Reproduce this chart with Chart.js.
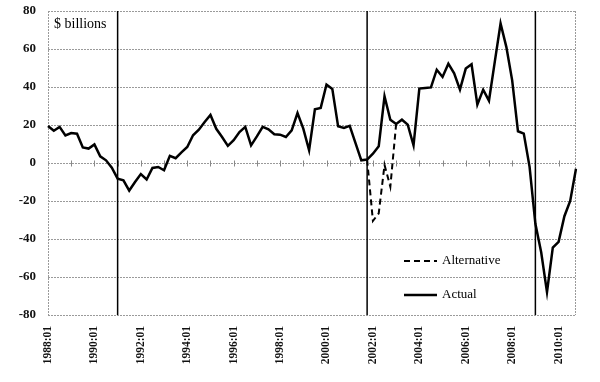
<!DOCTYPE html>
<html>
<head>
<meta charset="utf-8">
<script src="https://cdn.jsdelivr.net/npm/chart.js@4/dist/chart.umd.min.js"></script>
<style>
html,body{margin:0;padding:0;background:#fff;}
#wrap{width:600px;height:382px;position:relative;}
</style>
</head>
<body>
<div id="wrap"><canvas id="c" width="600" height="382"></canvas></div>
<script>
// ---- data ----
const startYear = 1988;
const endYear = 2010;
const quarters = [];
for (let yr = startYear; yr <= endYear; yr++) {
  for (let q = 1; q <= 4; q++) quarters.push(yr + ':0' + q);
}
const actual = [
  19.5, 17, 19, 14.5, 15.8, 15.4, 8.2, 7.6, 9.8, 3.5, 1.4, -2.5,
  -8.2, -9.1, -14.5, -10, -5.8, -8.7, -2.6, -2.1, -3.8, 3.8, 2.5, 5.6,
  8.4, 14.6, 17.5, 21.6, 25.3, 18, 13.7, 9, 12, 16.3, 19, 9.3,
  14, 19, 17.7, 15.1, 14.9, 13.7, 17.2, 26.3, 18.1, 6.7, 28.3, 29,
  41.3, 39, 19.3, 18.5, 19.6, 10.5, 1.4, 1.8, 4.9, 8.8, 35.1, 22.8,
  20.5, 22.8, 20.2, 9.3, 39.2, 39.5, 39.8, 49.1, 45.3, 52.3, 47.2, 38.6,
  49.7, 52, 30.7, 38.6, 32.8, 53.2, 73.4, 61, 43.5, 16.7, 15.5, -2,
  -32, -47, -68, -44.5, -41.5, -28, -20, -3
];
const alternative = quarters.map(() => null);
const altStart = '2001:04';
const altValues = [1.8, -30.5, -26.5, -1, -12.5, 20.5];
altValues.forEach((v, k) => { alternative[quarters.indexOf(altStart) + k] = v; });
const recessionMarks = ['1991:01', '2001:04', '2009:01'];
const yMin = -80, yMax = 80, yStep = 20;
const labelEvery = 8;   // x labels every 2 years
const minorEvery = 4;   // small ticks on zero line every year
const unitLabel = '$ billions';

// ---- styles ----
const SERIF = "'Liberation Serif', 'Times New Roman', serif";
const GRID = '#9a9a9a';

const decor = {
  id: 'decor',
  beforeDatasetsDraw(chart) {
    const { ctx, chartArea: a, scales: { x, y } } = chart;
    ctx.save();
    // left / right plot border
    ctx.strokeStyle = GRID;
    ctx.lineWidth = 1;
    ctx.setLineDash([2, 1]);
    ctx.beginPath();
    ctx.moveTo(Math.round(a.left) + 0.5, a.top); ctx.lineTo(Math.round(a.left) + 0.5, a.bottom);
    ctx.moveTo(Math.round(a.right) - 0.5, a.top); ctx.lineTo(Math.round(a.right) - 0.5, a.bottom);
    ctx.stroke();
    // small ticks on the zero line
    ctx.setLineDash([]);
    ctx.strokeStyle = '#888';
    const y0 = Math.round(y.getPixelForValue(0)) + 0.5;
    ctx.beginPath();
    quarters.forEach((q, i) => {
      if (i > 0 && i % minorEvery === 0 && i < quarters.length - 1) {
        const px = Math.round(x.getPixelForValue(i)) + 0.5;
        ctx.moveTo(px, y0 - 3); ctx.lineTo(px, y0 + 3);
      }
    });
    ctx.stroke();
    // unit label
    ctx.fillStyle = '#000';
    ctx.font = '14px ' + SERIF;
    ctx.textBaseline = 'middle';
    ctx.textAlign = 'left';
    ctx.fillText(unitLabel, a.left + 6, a.top + 13);
    ctx.restore();
  },
  afterDatasetsDraw(chart) {
    const { ctx, chartArea: a, scales: { x } } = chart;
    ctx.save();
    ctx.strokeStyle = '#000';
    ctx.lineWidth = 1.5;
    recessionMarks.forEach(m => {
      const px = x.getPixelForValue(quarters.indexOf(m));
      ctx.beginPath();
      ctx.moveTo(px, a.top); ctx.lineTo(px, a.bottom);
      ctx.stroke();
    });
    // legend inside the plot
    const ds = chart.data.datasets;
    const lx = a.left + 356, ly = a.top + 250, gap = 34;
    ds.forEach((d, k) => {
      const yy = ly + k * gap;
      ctx.strokeStyle = d.borderColor;
      ctx.lineWidth = d.borderWidth;
      ctx.setLineDash(d.borderDash || []);
      ctx.beginPath();
      ctx.moveTo(lx, yy); ctx.lineTo(lx + 33, yy);
      ctx.stroke();
      ctx.setLineDash([]);
      ctx.fillStyle = '#000';
      ctx.font = '13px ' + SERIF;
      ctx.textBaseline = 'middle';
      ctx.textAlign = 'left';
      ctx.fillText(d.label, lx + 38, yy);
    });
    ctx.restore();
  }
};

new Chart(document.getElementById('c'), {
  type: 'line',
  data: {
    labels: quarters,
    datasets: [
      {
        label: 'Alternative',
        data: alternative,
        borderColor: '#000',
        borderWidth: 2,
        borderDash: [6, 4],
        pointRadius: 0,
        fill: false,
        tension: 0,
        spanGaps: false
      },
      {
        label: 'Actual',
        data: actual,
        borderColor: '#000',
        borderWidth: 2.5,
        pointRadius: 0,
        fill: false,
        tension: 0
      }
    ]
  },
  options: {
    responsive: false,
    animation: false,
    events: [],
    layout: { padding: { top: 11, right: 24, left: 0, bottom: 0 } },
    plugins: { legend: { display: false }, tooltip: { enabled: false } },
    scales: {
      x: {
        offset: false,
        grid: { display: false },
        border: { display: false },
        afterFit(s) { s.height = 67; },
        ticks: {
          autoSkip: false,
          maxRotation: 90,
          minRotation: 90,
          padding: 3,
          color: '#111',
          font: { family: SERIF, size: 11.5, weight: 'bold' },
          callback(v, i) { return i % labelEvery === 0 ? quarters[i] : null; }
        }
      },
      y: {
        min: yMin,
        max: yMax,
        afterFit(s) { s.width = 48; },
        grid: { color: GRID, lineWidth: 1, drawTicks: true, tickLength: 12, tickColor: 'rgba(0,0,0,0)' },
        border: { display: false, dash: [2, 1] },
        ticks: {
          stepSize: yStep,
          padding: 0,
          color: '#111',
          font: { family: SERIF, size: 13, weight: 'bold' }
        }
      }
    }
  },
  plugins: [decor]
});
</script>
</body>
</html>
